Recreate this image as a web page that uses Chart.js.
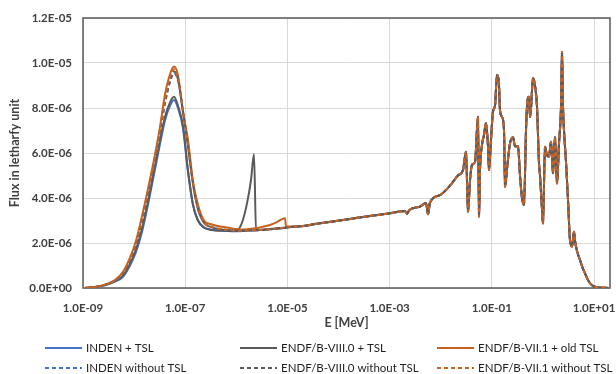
<!DOCTYPE html>
<html>
<head>
<meta charset="utf-8">
<title>Flux in letharfy unit</title>
<script src="https://cdn.jsdelivr.net/npm/chart.js@4.4.0/dist/chart.umd.min.js"></script>
<style>
  html, body { margin: 0; padding: 0; background: #fff; }
  #chartFlux { display: block; }
</style>
</head>
<body>
<canvas id="chartFlux" width="616" height="374"></canvas>
<script>
'use strict'

// energy grid below 1e-5 MeV (thermal + low epithermal), MeV
let thermalE = [1.0e-9, 1.72e-9, 2.70e-9, 4.23e-9, 6.07e-9, 8.31e-9, 1.09e-8, 1.43e-8, 1.87e-8, 2.45e-8,
    3.21e-8, 4.02e-8, 5.04e-8, 6.04e-8, 7.23e-8, 9.06e-8, 1.13e-7, 1.42e-7, 1.78e-7, 2.33e-7,
    3.35e-7, 5.25e-7, 8.24e-7, 1.03e-6, 1.29e-6, 1.62e-6, 1.94e-6, 2.22e-6, 2.43e-6, 3.18e-6,
    4.56e-6, 6.26e-6, 7.84e-6, 8.98e-6, 9.39e-6, 1.0e-5];

// flux per lethargy on thermalE, units of 1e-6
let indenTsl     = [0, 0.04, 0.12, 0.28, 0.50, 1.00, 1.60, 2.50, 3.70, 5.05,
    6.40, 7.45, 8.10, 8.36, 8.00, 7.10, 5.20, 3.70, 3.00, 2.70,
    2.59, 2.55, 2.53, 2.52, 2.53, 2.54, 2.55, 2.56, 2.56, 2.58,
    2.61, 2.64, 2.66, 2.67, 2.68, 2.70];
let endf80Tsl    = [0, 0.05, 0.14, 0.32, 0.55, 1.08, 1.72, 2.65, 3.85, 5.20,
    6.55, 7.60, 8.25, 8.50, 8.10, 7.20, 5.25, 3.70, 3.00, 2.68,
    2.58, 2.54, 2.52, 2.55, 2.90, 3.76, 4.80, 5.96, 2.60, 2.58,
    2.61, 2.64, 2.66, 2.67, 2.68, 2.70];
let endf71OldTsl = [0, 0.05, 0.15, 0.35, 0.72, 1.35, 2.10, 3.20, 4.40, 5.70,
    7.15, 8.60, 9.50, 9.84, 9.45, 7.80, 6.60, 4.75, 3.70, 3.00,
    2.82, 2.72, 2.65, 2.62, 2.60, 2.61, 2.63, 2.65, 2.66, 2.71,
    2.80, 2.93, 3.06, 3.10, 2.72, 2.73];
let indenNoTsl   = [0, 0.05, 0.14, 0.33, 0.65, 1.25, 1.95, 3.00, 4.20, 5.50,
    6.90, 8.20, 9.15, 9.54, 9.20, 7.80, 6.30, 4.60, 3.50, 2.90,
    2.70, 2.60, 2.56, 2.55, 2.55, 2.55, 2.56, 2.57, 2.57, 2.59,
    2.62, 2.65, 2.67, 2.68, 2.69, 2.70];
let endf80NoTsl  = [0, 0.05, 0.14, 0.33, 0.66, 1.26, 1.97, 3.02, 4.25, 5.55,
    6.95, 8.25, 9.20, 9.62, 9.28, 7.85, 6.32, 4.62, 3.50, 2.90,
    2.70, 2.60, 2.56, 2.55, 2.55, 2.55, 2.56, 2.57, 2.57, 2.59,
    2.62, 2.65, 2.67, 2.68, 2.69, 2.70];
let endf71NoTsl  = [0, 0.05, 0.15, 0.34, 0.68, 1.30, 2.02, 3.10, 4.32, 5.62,
    7.05, 8.40, 9.35, 9.72, 9.35, 7.90, 6.40, 4.65, 3.55, 2.92,
    2.71, 2.61, 2.57, 2.55, 2.55, 2.55, 2.56, 2.57, 2.57, 2.59,
    2.62, 2.65, 2.67, 2.68, 2.69, 2.70];

// above 1e-5 MeV all six calculations coincide
let fastE = [1.76e-5, 3.47e-5, 7.80e-5, 1.68e-4, 4.13e-4, 1.02e-3, 2.00e-3, 2.19e-3, 2.40e-3, 3.93e-3,
    5.16e-3, 5.64e-3, 6.17e-3, 9.69e-3, 1.52e-2, 2.18e-2, 2.73e-2, 3.13e-2, 3.42e-2, 3.75e-2,
    4.10e-2, 4.69e-2, 5.37e-2, 5.62e-2, 5.87e-2, 6.43e-2, 7.04e-2, 7.70e-2, 8.42e-2, 8.81e-2,
    9.65e-2, 0.1055, 0.1155, 0.1264, 0.1383, 0.1447, 0.1583, 0.1733, 0.1813, 0.1984,
    0.2271, 0.2600, 0.2844, 0.3256, 0.3563, 0.3899, 0.4267, 0.4670, 0.4885, 0.535,
    0.5593, 0.585, 0.6402, 0.7004, 0.7665, 0.8388, 0.8773, 0.960, 1.005, 1.099,
    1.203, 1.316, 1.440, 1.576, 1.725, 1.887, 2.066, 2.261, 2.365, 2.474,
    2.588, 2.832, 3.099, 3.391, 3.711, 4.061, 4.248, 4.649, 5.321, 6.091,
    6.666, 7.630, 9.14, 11.45, 16.42, 20.56];
let fastFlux = [2.74, 2.84, 2.96, 3.07, 3.20, 3.32, 3.42, 3.30, 3.45, 3.62,
    3.78, 3.28, 3.80, 4.13, 4.55, 5.00, 5.24, 6.06, 3.39, 4.80,
    5.47, 5.60, 7.61, 3.17, 5.20, 6.36, 6.80, 7.32, 6.30, 5.24,
    6.60, 7.84, 8.10, 9.47, 9.00, 7.90, 7.60, 7.00, 4.50, 5.30,
    6.43, 6.70, 6.30, 6.30, 5.00, 4.00, 3.70, 7.00, 8.06, 8.50,
    7.60, 8.00, 9.32, 9.00, 8.06, 5.54, 5.00, 3.50, 2.87, 6.28,
    5.90, 5.84, 6.50, 5.10, 6.70, 4.65, 6.43, 8.06, 10.50, 8.06,
    7.00, 5.60, 3.91, 2.13, 1.84, 2.50, 2.10, 1.65, 1.24, 0.85,
    0.65, 0.35, 0.12, 0.03, 0.01, 0.0];

// ejes
let energyTicks = [1e-9, 1e-7, 1e-5, 1e-3, 1e-1, 1e1];
let fluxTicks = [0, 2e-6, 4e-6, 6e-6, 8e-6, 1.0e-5, 1.2e-5];

let seriesLabels = ['INDEN + TSL', 'ENDF/B-VIII.0 + TSL', 'ENDF/B-VII.1 + old TSL',
    'INDEN without TSL', 'ENDF/B-VIII.0 without TSL', 'ENDF/B-VII.1 without TSL'];
let thermalFlux = [indenTsl, endf80Tsl, endf71OldTsl, indenNoTsl, endf80NoTsl, endf71NoTsl];
let colores = ['#4472C4', '#5a5a5a', '#C8621E', '#4472C4', '#5a5a5a', '#C8621E'];

// 1.0E-05 style labels
function sci(v){
    if (v === 0) return '0.0E+00';
    let [m, e] = v.toExponential(1).split('e');
    let n = parseInt(e, 10);
    return m + 'E' + (n < 0 ? '-' : '+') + String(Math.abs(n)).padStart(2, '0');
}

function puntos(thermal){
    let pts = [];
    thermalE.forEach((e, i) => pts.push({x: e, y: thermal[i] * 1e-6}));
    fastE.forEach((e, i) => pts.push({x: e, y: fastFlux[i] * 1e-6}));
    return pts;
}

let datasets = seriesLabels.map((label, i) => ({
    label: label,
    data: puntos(thermalFlux[i]),
    borderColor: colores[i],
    borderWidth: 2,
    borderDash: i < 3 ? [] : [4, 3],
    pointRadius: 0,
    fill: false,
    cubicInterpolationMode: 'monotone',
    order: 5 - i
}));

// marco del area de trazado
const plotBox = {
    id: 'plotBox',
    beforeDatasetsDraw(chart){
        const {ctx, chartArea: a} = chart;
        ctx.save();
        ctx.strokeStyle = '#595959';
        ctx.lineWidth = 1.5;
        ctx.strokeRect(a.left, a.top, a.right - a.left, a.bottom - a.top);
        ctx.restore();
    }
};

// leyenda en dos filas, tres columnas
const leyenda = {
    id: 'leyenda',
    afterDraw(chart){
        const ctx = chart.ctx;
        const cols = [45, 240, 437];
        const rows = [348, 368];
        ctx.save();
        ctx.font = '11.5px Lato';
        ctx.textBaseline = 'middle';
        chart.data.datasets.forEach((ds, i) => {
            let x = cols[i % 3];
            let y = rows[Math.floor(i / 3)];
            ctx.strokeStyle = ds.borderColor;
            ctx.lineWidth = 2;
            ctx.setLineDash(ds.borderDash);
            ctx.beginPath();
            ctx.moveTo(x, y);
            ctx.lineTo(x + 37, y);
            ctx.stroke();
            ctx.setLineDash([]);
            ctx.fillStyle = '#1f1f1f';
            ctx.fillText(ds.label, x + 41, y);
        });
        ctx.restore();
    }
};

const tickFont = {family: 'Lato', size: 11.5, weight: 'bold'};
const titleFont = {family: 'Lato', size: 12.5, weight: 'bold'};

const ctx = document.getElementById('chartFlux').getContext('2d');
const fluxChart = new Chart(ctx, {
    type: 'line',
    data: { datasets: datasets },
    options: {
        responsive: false,
        animation: false,
        devicePixelRatio: 1,
        layout: {
            padding: { top: 18, right: 6, bottom: 40, left: 0 }
        },
        plugins: {
            legend: { display: false },
            tooltip: { enabled: false }
        },
        scales: {
            x: {
                type: 'logarithmic',
                min: 1e-9,
                max: 20.56,
                afterBuildTicks: s => { s.ticks = energyTicks.map(v => ({value: v})); },
                // la etiqueta 1.0E+01 puede salirse del area, no reservar hueco
                afterFit: s => { s.height = 46; s.paddingLeft = 0; s.paddingRight = 0; },
                ticks: {
                    callback: v => sci(v),
                    font: tickFont,
                    color: '#404040',
                    padding: 13,
                    maxRotation: 0,
                    autoSkip: false
                },
                grid: { color: '#d9d9d9', lineWidth: 1, drawTicks: false },
                border: { display: false },
                title: {
                    display: true,
                    text: 'E [MeV]',
                    font: titleFont,
                    color: '#404040',
                    padding: { top: 0, bottom: 4 }
                }
            },
            y: {
                min: 0,
                max: 1.2e-5,
                afterBuildTicks: s => { s.ticks = fluxTicks.map(v => ({value: v})); },
                afterFit: s => { s.width = 83; },
                ticks: {
                    callback: v => sci(v),
                    font: tickFont,
                    color: '#404040',
                    padding: 11
                },
                grid: { color: '#d9d9d9', lineWidth: 1, drawTicks: false },
                border: { display: false },
                title: {
                    display: true,
                    text: 'Flux in letharfy unit',
                    font: titleFont,
                    color: '#404040',
                    padding: { top: 7, bottom: 0 }
                }
            }
        }
    },
    plugins: [plotBox, leyenda]
});
</script>
</body>
</html>
